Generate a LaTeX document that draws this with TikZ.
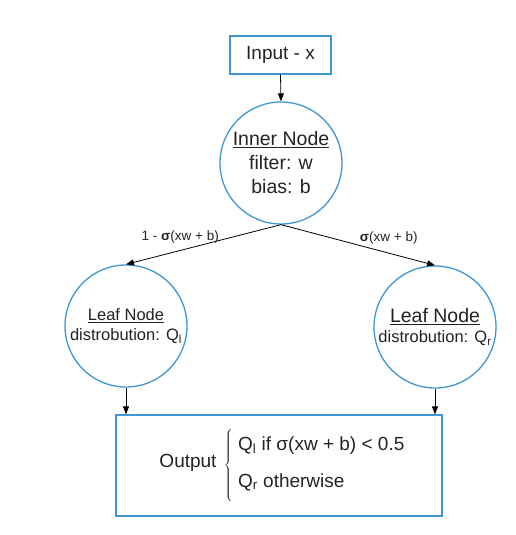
\documentclass[tikz,border=0pt]{standalone}
\usepackage{fontspec}
\setmainfont{Liberation Sans}
\usetikzlibrary{arrows.meta}
\definecolor{nodeblue}{RGB}{62,150,210}
\definecolor{textgray}{RGB}{35,35,35}

\begin{document}
\begin{tikzpicture}[x=1pt,y=-1pt]
\tikzstyle{every node}=[font=\fontsize{16.5}{20}\selectfont, text=textgray, align=center]
\tikzstyle{bluebox}=[draw=nodeblue, line width=1.3pt, rectangle]
\tikzstyle{bluecircle}=[draw=nodeblue, line width=1.3pt, circle, inner sep=0pt, minimum size=122pt]
\tikzstyle{arrow}=[-{Triangle[length=8pt,width=6pt]}, line width=0.8pt, black]
\tikzstyle{edgelabel}=[font=\fontsize{13.5}{16}\selectfont, inner sep=1pt]
\tikzstyle{outfont}=[font=\fontsize{19}{22}\selectfont, inner sep=0pt]

\useasboundingbox (0,0) rectangle (516,535);

% Draw the input box
\node[bluebox, minimum width=101pt, minimum height=38pt, font=\fontsize{19}{23}\selectfont] (input) at (280.5,55) {Input - x};

% Draw the inner node
\node[bluecircle, font=\fontsize{19.5}{24}\selectfont] (inner) at (281,163) {\underline{Inner Node}\\filter: w\\bias: b};

% Draw the leaf nodes
\node[bluecircle] (leafl) at (126,326) {\underline{Leaf Node}\\distrobution: Q\textsubscript{l}};
\node[bluecircle] (leafr) at (435,327) {{\fontsize{19.5}{20}\selectfont\underline{Leaf Node}}\\distrobution: Q\textsubscript{r}};

% Draw the output box
\node[bluebox, minimum width=326pt, minimum height=101pt] (output) at (279,465.5) {};
\node[outfont] (outlabel) at (188,463) {Output};
\node[inner sep=0pt] (outbrace) at (229,465) {$\left\{\rule[-32pt]{0pt}{73pt}\right.$};
\node[outfont, anchor=west, align=left] (outcases) at (238,463.5) {Q\textsubscript{l} if σ(xw + b) < 0.5\\[15pt]Q\textsubscript{r} otherwise};

% Draw the connections
\draw[arrow] (input.south) -- (inner.north);
\draw[arrow] (inner.south) -- (leafl.north) node[edgelabel, pos=0.65, above=6pt] (labl) {1 - \textbf{σ}(xw + b)};
\draw[arrow] (inner.south) -- (leafr.north) node[edgelabel, pos=0.7, above=7pt] (labr) {\textbf{σ}(xw + b)};
\draw[arrow] (leafl.south) -- (leafl.south |- output.north);
\draw[arrow] (leafr.south) -- (leafr.south |- output.north);

\end{tikzpicture}
\end{document}
